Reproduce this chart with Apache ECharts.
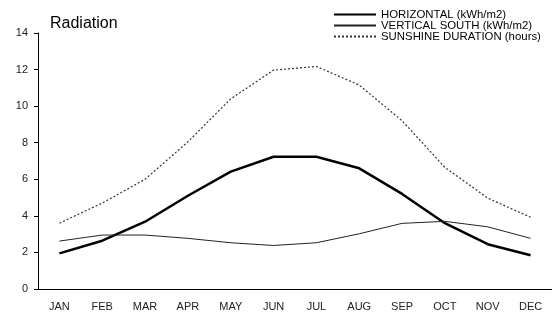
<!DOCTYPE html>
<html>
<head>
<meta charset="utf-8">
<script src="https://cdn.jsdelivr.net/npm/echarts@6/dist/echarts.min.js"></script>
<style>
  html, body { margin: 0; padding: 0; background: #fff; }
  #radiation { width: 552px; height: 316px; }
</style>
</head>
<body>
<div id="radiation"></div>
<script>
// months on the x axis
const months = ["JAN", "FEB", "MAR", "APR", "MAY", "JUN", "JUL", "AUG", "SEP", "OCT", "NOV", "DEC"];
// values
const horizontal = [1.95, 2.64, 3.68, 5.1, 6.42, 7.23, 7.23, 6.6, 5.2, 3.6, 2.45, 1.85];
const verticalSouth = [2.62, 2.95, 2.95, 2.77, 2.53, 2.38, 2.53, 3.02, 3.59, 3.7, 3.4, 2.77];
const sunshine = [3.6, 4.7, 6.0, 8.05, 10.4, 11.97, 12.17, 11.15, 9.2, 6.65, 4.97, 3.92];

const chart = echarts.init(document.getElementById("radiation"));

let option = {
  animation: false,
  title: {
    text: "Radiation",
    left: 45,
    top: 11,
    textStyle: {
      fontFamily: "Liberation Sans, Arial, sans-serif",
      fontSize: 16,
      fontWeight: "normal",
      color: "#000"
    }
  },
  legend: {
    orient: "vertical",
    left: 328,
    top: 4,
    itemWidth: 42,
    itemHeight: 10,
    itemGap: 0,
    itemStyle: { opacity: 0 },
    textStyle: {
      fontFamily: "Liberation Sans, Arial, sans-serif",
      fontSize: 11.4,
      lineHeight: 10.7,
      color: "#000"
    },
    data: ["HORIZONTAL (kWh/m2)", "VERTICAL SOUTH (kWh/m2)", "SUNSHINE DURATION (hours)"]
  },
  grid: {
    left: 38,
    right: -4,
    top: 33,
    bottom: 27
  },
  xAxis: {
    type: "category",
    boundaryGap: true,
    data: months,
    axisLine: { lineStyle: { color: "#000", width: 1 } },
    axisTick: { length: 5, lineStyle: { color: "#000" } },
    axisLabel: {
      margin: 12,
      fontFamily: "Liberation Sans, Arial, sans-serif",
      fontSize: 11,
      color: "#222"
    },
    splitLine: { show: false }
  },
  yAxis: {
    type: "value",
    min: 0,
    max: 14,
    interval: 2,
    axisLine: { show: true, lineStyle: { color: "#000", width: 1 } },
    axisTick: { show: true, length: 4, lineStyle: { color: "#000" } },
    axisLabel: {
      margin: 10,
      fontFamily: "Liberation Sans, Arial, sans-serif",
      fontSize: 11,
      color: "#222"
    },
    splitLine: { show: false }
  },
  series: [
    {
      name: "HORIZONTAL (kWh/m2)",
      type: "line",
      data: horizontal,
      symbol: "none",
      lineStyle: { color: "#000", width: 2.5 },
      itemStyle: { color: "#000" }
    },
    {
      name: "VERTICAL SOUTH (kWh/m2)",
      type: "line",
      data: verticalSouth,
      symbol: "none",
      lineStyle: { color: "#222", width: 1 },
      itemStyle: { color: "#222" }
    },
    {
      name: "SUNSHINE DURATION (hours)",
      type: "line",
      data: sunshine,
      symbol: "none",
      lineStyle: { color: "#333", width: 1.2, type: [2, 2] },
      itemStyle: { color: "#333" }
    }
  ]
};
chart.setOption(option);
</script>
</body>
</html>
